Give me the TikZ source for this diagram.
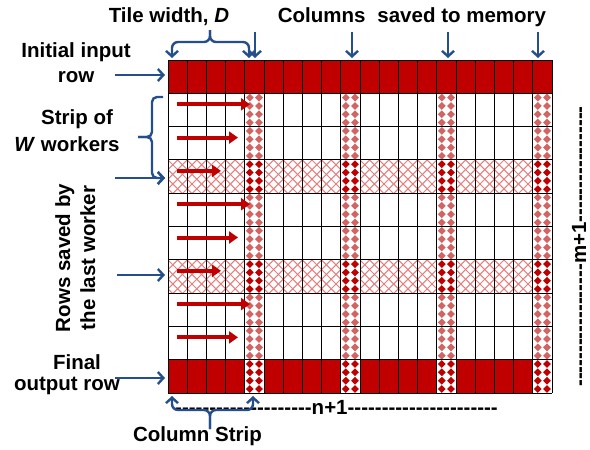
\documentclass[tikz,border=0pt]{standalone}
\usepackage{fontspec}
\setmainfont{Liberation Sans}
\usetikzlibrary{arrows.meta}
\definecolor{dred}{RGB}{192,0,0}
\definecolor{lred}{RGB}{210,100,100}
\definecolor{hred}{RGB}{232,125,125}
\definecolor{bblue}{RGB}{37,79,140}
\newcount\hypcnt
\newcommand\hyps[1]{\hypcnt=#1\relax\loop\ifnum\hypcnt>0 -\kern0pt\advance\hypcnt by -1\repeat}
\begin{document}
\begin{tikzpicture}[x=1pt,y=-1pt,
  lab/.style={font=\fontsize{20.5}{24}\selectfont\bfseries, inner sep=0pt, anchor=base},
  barrow/.style={draw=bblue, line width=2.4pt, -{Straight Barb[length=5.5pt,width=12pt]}},
  rarrow/.style={draw=dred, line width=4pt, -{Triangle[length=9pt,width=12pt]}},
  gridln/.style={black, line width=1pt},
  hatch/.style={hred, line width=1pt}]
\useasboundingbox (0,0) rectangle (590,450);

% red rows
\fill[dred] (168,60) rectangle (552,93.3);
\fill[dred] (168,360) rectangle (552,393.3);

% cross-hatched rows
\foreach \ry in {160,260}{
  \begin{scope}
    \clip (168,\ry) rectangle (552,\ry+33.3);
    \foreach \i in {-38.4,-28.8,...,432}{
      \draw[hatch] (168+\i,\ry) -- ++(33.3,33.3);
      \draw[hatch] (168+\i,\ry) -- ++(-33.3,33.3);
    }
  \end{scope}
}

% diamond-patterned columns
\foreach \c in {4,9,14,19}{
  \foreach \r/\col in {1/lred,2/lred,3/dred,4/lred,5/lred,6/dred,7/lred,8/lred,9/dred}{
    \pgfmathsetmacro\cx{168+\c*19.2}
    \pgfmathsetmacro\cy{60+\r*33.3}
    \fill[white] (\cx,\cy) rectangle ++(19.2,33.3);
    \foreach \k in {0,...,3}{
      \foreach \dx in {5,14.2}{
        \fill[\col] ({\cx+\dx},{\cy+4.3+\k*8.33}) +(0,-3.9) -- +(3.9,0) -- +(0,3.9) -- +(-3.9,0) -- cycle;
      }
    }
  }
}

% grid
\foreach \i in {0,...,20} \draw[gridln] (168+\i*19.2,60) -- (168+\i*19.2,393.3);
\foreach \j in {0,...,10} \draw[gridln] (168,60+\j*33.3) -- (552,60+\j*33.3);

% red worker arrows
\foreach \r/\e in {1/250,2/238,3/221,4/250,5/238,6/221,7/250,8/238}{
  \coordinate (ra\r) at (177,{60+\r*33.3+11});
  \coordinate (rb\r) at (\e,{60+\r*33.3+11});
  \draw[rarrow] (ra\r) -- (rb\r);
}

% labels
\node[lab] (tw) at (169,22) {Tile width, \textit{D}};
\node[lab] (cs) at (412,22) {Columns\hspace{0.3em} saved to memory};
\node[lab] (ii1) at (76,57) {Initial input};
\node[lab] (ii2) at (76,82) {row};
\node[lab] (sw1) at (77,124) {Strip of};
\node[lab] (sw2) at (67,151) {\textit{W} workers};
\node[lab,rotate=90] (rs1) at (70,258) {Rows saved by};
\node[lab,rotate=90] (rs2) at (95,258) {the last worker};
\node[lab] (fo1) at (77,369) {Final};
\node[lab] (fo2) at (67,390) {output row};
\node[lab] (cst) at (197.5,441) {Column Strip};
\node[lab, anchor=base west] (nn) at (175,414) {\hyps{20}n+1\hyps{22}};
\node[lab, rotate=90, anchor=base west] (mm) at (586,387) {\hyps{18}m+1\hyps{17}};

% blue arrows to rows
\coordinate (iiA) at (115,75);  \coordinate (iiB) at (165,75);
\coordinate (rsA) at (115,178); \coordinate (rsB) at (165,178);
\coordinate (rtA) at (117,275); \coordinate (rtB) at (165,275);
\coordinate (foA) at (115,378); \coordinate (foB) at (165,378);
\draw[barrow] (iiA) -- (iiB);
\draw[barrow] (rsA) -- (rsB);
\draw[barrow] (rtA) -- (rtB);
\draw[barrow] (foA) -- (foB);

% column arrows
\foreach \x/\n in {255/a,352/b,448/c,538/d}{
  \coordinate (ca\n) at (\x,32);
  \coordinate (cb\n) at (\x,58);
  \draw[barrow] (ca\n) -- (cb\n);
}

% tile width brace
\coordinate (twT) at (210,30);
\coordinate (twL) at (172,58);
\coordinate (twR) at (249,58);
\draw[barrow, rounded corners=6pt] (twT) |- (172,42) -- (twL);
\draw[barrow, rounded corners=6pt] (twT) |- (249,42) -- (twR);

% strip of workers brace
\coordinate (swT) at (163,97);
\coordinate (swP) at (138,137);
\draw[barrow, rounded corners=5pt, -] (swT) -| (152,137) -- (swP);
\draw[barrow, rounded corners=5pt] (swP) -| (152,178) -- (rsB);

% column strip brace
\coordinate (csT) at (210,429);
\coordinate (csL) at (172,396);
\coordinate (csR) at (253,396);
\draw[barrow, rounded corners=6pt] (csT) |- (172,410) -- (csL);
\draw[barrow, rounded corners=6pt] (csT) |- (253,410) -- (csR);
\end{tikzpicture}
\end{document}
